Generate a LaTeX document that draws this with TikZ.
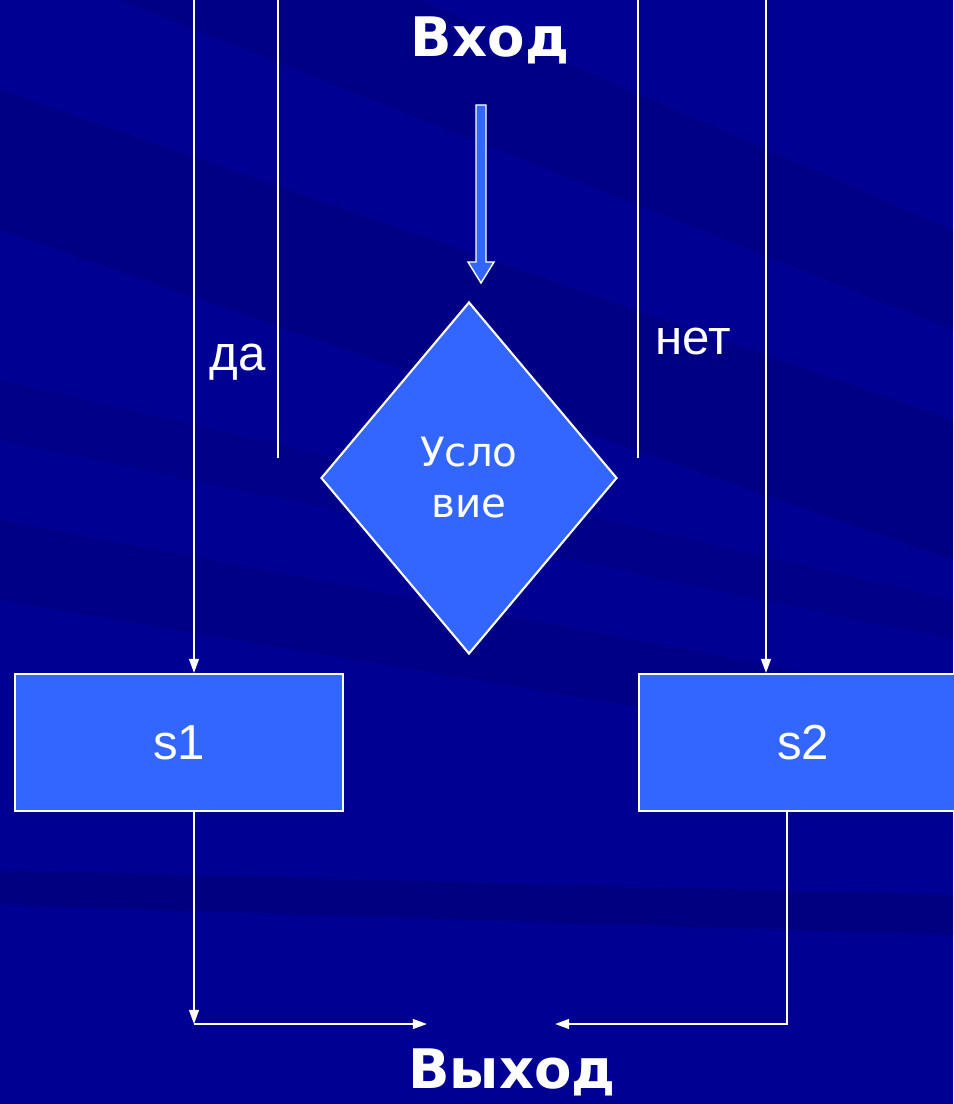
\documentclass[tikz,border=0pt]{standalone}
\usepackage{fontspec}
\setmainfont{Liberation Sans}
\newfontfamily\comicfont{DejaVu Sans}
\usetikzlibrary{shapes.geometric,arrows.meta}

\definecolor{bgblue}{RGB}{0,0,146}
\definecolor{bandblue}{RGB}{0,0,100}
\definecolor{boxblue}{RGB}{51,102,255}

\tikzset{
  flowline/.style={draw=white, line width=1.2pt},
  flowarrow/.style={flowline, -{Triangle[length=8pt,width=5.5pt]}},
  block/.style={rectangle, draw=white, line width=1.2pt, fill=boxblue, text=white,
    minimum width=6.56cm, minimum height=2.74cm, inner sep=0pt,
    font=\fontsize{28}{30}\selectfont},
  decision/.style={diamond, draw=white, line width=1.2pt, fill=boxblue, text=white,
    minimum width=5.92cm, minimum height=7.04cm, inner sep=0pt, align=center,
    font=\comicfont\fontsize{23}{29}\selectfont},
  title/.style={text=white, font=\comicfont\bfseries\fontsize{31}{34}\selectfont},
  branch/.style={text=white, font=\fontsize{28}{30}\selectfont}
}

\begin{document}
\begin{tikzpicture}[x=0.02cm,y=-0.02cm]
  % Background with diagonal streaks
  \fill[bgblue] (0,0) rectangle (953,1104);
  \useasboundingbox (0,0) rectangle (953,1104);
  \fill[bandblue,opacity=0.3] (0,90) -- (953,420) -- (953,560) -- (0,230) -- cycle;
  \fill[bandblue,opacity=0.25] (120,0) -- (420,0) -- (953,230) -- (953,330) -- cycle;
  \fill[bandblue,opacity=0.25] (0,520) -- (953,700) -- (953,760) -- (0,600) -- cycle;
  \fill[bandblue,opacity=0.35] (0,870) -- (953,895) -- (953,935) -- (0,905) -- cycle;
  \fill[bandblue,opacity=0.2] (0,380) -- (953,600) -- (953,640) -- (0,440) -- cycle;

  % Nodes
  \node[title] (in) at (490,40) {Вход};
  \node[title] (out) at (512,1072) {Выход};
  \node[decision] (cond) at (469,478) {Усло\\вие};
  \node[block, anchor=north west] (s1) at (14,673) {s1};
  \node[block, anchor=north west] (s2) at (638,673) {s2};
  \node[branch] (yes) at (238,362) {да};
  \node[branch] (no) at (693,342) {нет};

  % Hollow input arrow
  \draw[white, line width=0.8pt, fill=boxblue] (476,105) -- (486,105) -- (486,262)
    -- (494,262) -- (481,283) -- (468,262) -- (476,262) -- cycle;

  % Vertical lines from the top
  \foreach \x/\y in {278/458, 638/458} {
    \draw[flowline] (\x,0) -- (\x,\y);
  }
  \coordinate (topa) at (194,0);
  \coordinate (topb) at (766,0);
  \draw[flowarrow] (topa) -- (topa |- s1.north);
  \draw[flowarrow] (topb) -- (topb |- s2.north);

  % Lines to the exit
  \coordinate (cornera) at (194,1024);
  \coordinate (cornerb) at (787,1024);
  \coordinate (enda) at (427,1024);
  \coordinate (endb) at (555,1024);
  \draw[flowarrow] (cornera |- s1.south) -- (cornera);
  \draw[flowarrow] (cornera) -- (enda);
  \draw[flowarrow] (cornerb |- s2.south) -- (cornerb) -- (endb);

\end{tikzpicture}
\end{document}
